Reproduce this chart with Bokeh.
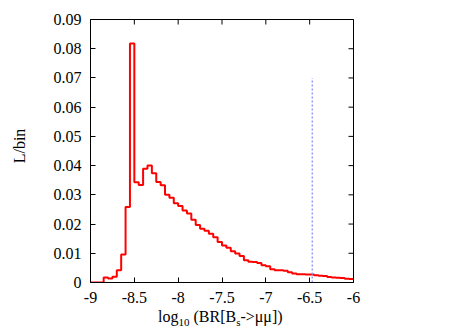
import numpy as np
from bokeh.plotting import figure
from bokeh.layouts import column
from bokeh.models import Range1d, FixedTicker, Div
from bokeh.embed import file_html
from bokeh.resources import INLINE

# ---- data -------------------------------------------------------------
bin_lo = -9.0
bin_width = 0.05
likelihood = [
    0.0, 0.0, 0.0, 0.0017, 0.0014, 0.0020, 0.0042, 0.0096, 0.0258, 0.0818,
    0.0343, 0.0334, 0.0389, 0.0400, 0.0374, 0.0344, 0.0333, 0.0300, 0.0290, 0.0271,
    0.0262, 0.0246, 0.0236, 0.0215, 0.0197, 0.0184, 0.0177, 0.0167, 0.0155, 0.0139,
    0.0127, 0.0119, 0.0107, 0.0099, 0.0091, 0.0076, 0.0071, 0.0070, 0.0067, 0.0059,
    0.0056, 0.0045, 0.0042, 0.0042, 0.0040, 0.0035, 0.0031, 0.0028, 0.0028, 0.0027,
    0.0027, 0.0025, 0.0023, 0.0022, 0.0019, 0.0017, 0.0016, 0.0015, 0.0013, 0.0012,
]
marker_x = -6.47
marker_top = 0.07

x_min, x_max = -9, -6
y_min, y_max = 0, 0.09
xticks = [-9, -8.5, -8, -7.5, -7, -6.5, -6]
xtick_labels = ["-9", "-8.5", "-8", "-7.5", "-7", "-6.5", "-6"]
yticks = [0, 0.01, 0.02, 0.03, 0.04, 0.05, 0.06, 0.07, 0.08, 0.09]
ytick_labels = ["0", "0.01", "0.02", "0.03", "0.04", "0.05", "0.06", "0.07", "0.08", "0.09"]
x_title = ("log", "10", " (BR[B", "s", "->\u03bc\u03bc])")
y_title = "L/bin"

# ---- figure -------------------------------------------------------------
FONT = "Liberation Serif"
W, H = 471, 330
edges = bin_lo + bin_width * np.arange(len(likelihood) + 1)
step_y = list(likelihood) + [likelihood[-1]]

p = figure(width=W, height=H, output_backend="svg", toolbar_location=None,
           x_range=Range1d(x_min, x_max), y_range=Range1d(y_min, y_max),
           min_border_left=90, min_border_right=118, min_border_top=19,
           min_border_bottom=48)
p.background_fill_color = "white"
p.border_fill_color = "white"
p.outline_line_color = "black"
p.outline_line_width = 1
p.grid.visible = False

p.step(edges, step_y, mode="after", line_color="#ff0000", line_width=2)
p.line([marker_x, marker_x], [y_min, marker_top], line_color="#9999ff",
       line_width=1.5, line_dash="2 2")

# mirrored inward ticks on the top and right borders
p.scatter(xticks, [y_max] * len(xticks), marker="dash", angle=np.pi / 2,
          size=10, line_color="black", line_width=1)
p.scatter([x_max] * len(yticks), yticks, marker="dash", size=10,
          line_color="black", line_width=1)


def style_axis(ax, ticks, labels):
    ax.ticker = FixedTicker(ticks=ticks)
    ax.major_label_overrides = {t: l for t, l in zip(ticks, labels)}
    ax.major_tick_in = 5
    ax.major_tick_out = 0
    ax.minor_tick_line_color = None
    ax.axis_line_color = "black"
    ax.major_tick_line_color = "black"
    ax.major_label_text_font = FONT
    ax.major_label_text_font_size = "16px"
    ax.major_label_text_color = "black"


style_axis(p.xaxis[0], xticks, xtick_labels)
style_axis(p.yaxis[0], yticks, ytick_labels)
p.xaxis[0].major_label_standoff = 9
p.yaxis[0].major_label_standoff = 9

# axis titles (with real subscripts) in a transparent overlay
sub = "font-size:11px;position:relative;top:4px;"
base = ("position:absolute;font-family:'Liberation Serif';font-size:16px;"
        "line-height:16px;white-space:nowrap;color:black;")
xt = (f"{x_title[0]}<span style=\"{sub}\">{x_title[1]}</span>{x_title[2]}"
      f"<span style=\"{sub}\">{x_title[3]}</span>{x_title[4].replace('>', '&gt;')}")
overlay_html = (
    f"<div style=\"position:relative;width:{W}px;height:{H}px;\">"
    f"<div style=\"{base}left:158px;top:309px;\">{xt}</div>"
    f"<div style=\"{base}left:19.6px;top:146px;"
    f"transform:translate(-50%,-50%) rotate(-90deg);\">{y_title}</div>"
    "</div>"
)
overlay = Div(text=overlay_html, width=W, height=H, margin=(-H, 0, 0, 0))

layout = column(p, overlay, spacing=0)
open("out.html", "w").write(file_html(layout, INLINE))
